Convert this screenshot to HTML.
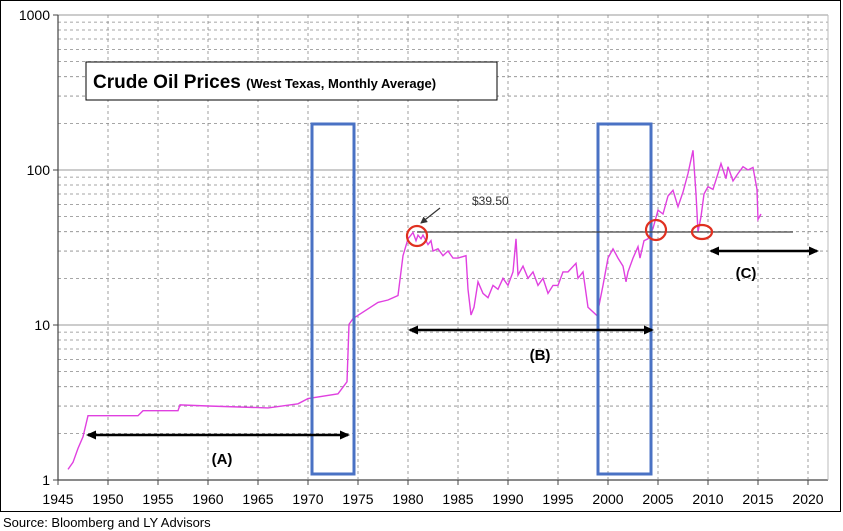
<!DOCTYPE html>
<html><head><meta charset="utf-8"><style>
body{margin:0;background:#fff;}
svg{display:block;font-family:"Liberation Sans",sans-serif;}
</style></head><body>
<svg id="chart" width="843" height="531" viewBox="0 0 843 531">
<rect x="0.5" y="0.5" width="840" height="511" fill="#fff" stroke="#000"/>
<g id="grid"></g>
<g id="axes"></g>
<g id="series"></g>
<g id="annot"></g>
<text x="3" y="527" font-size="13" fill="#000">Source:  Bloomberg and LY Advisors</text>
</svg>
<script>
const xTicks=[1945,1950,1955,1960,1965,1970,1975,1980,1985,1990,1995,2000,2005,2010,2015,2020];
const yTicks=[1,10,100,1000];
const years=[1946,1946.5,1947,1947.5,1948,1953,1953.5,1957,1957.2,1960,1966,1969,1970,1973,1973.9,1974.1,1974.5,1977,1978,1979,1979.5,1980,1980.5,1980.8,1981,1981.3,1981.5,1982,1982.3,1982.5,1983,1983.5,1984,1984.5,1985,1985.8,1986,1986.3,1986.6,1987,1987.5,1988,1988.5,1989,1989.5,1990,1990.5,1990.8,1991,1991.5,1992,1992.5,1993,1993.5,1994,1994.5,1995,1995.5,1996,1996.8,1997,1997.5,1998,1998.9,1999.5,2000,2000.5,2001,2001.5,2001.8,2002,2002.5,2003,2003.2,2003.6,2004,2004.5,2005,2005.5,2006,2006.5,2007,2007.5,2008,2008.5,2008.8,2009,2009.3,2009.6,2010,2010.5,2011,2011.3,2011.8,2012,2012.5,2013,2013.5,2014,2014.5,2014.9,2015,2015.3];
const prices=[1.17,1.3,1.6,1.9,2.6,2.6,2.8,2.8,3.05,3.0,2.92,3.1,3.35,3.6,4.3,10.1,11,14,14.5,15.5,28,36,39.5,35,38,36,38,33,35,30,31,28,30,27,27,28,17,11.6,13,19,16,15,18,17,20,18,22,36,21,24,20,22,18,20,16,18,18,22,22,25,20,22,13,11.5,18,27,31,27,24,19,22,27,32,27,35,36,42,55,52,68,74,58,72,95,134,70,40,50,70,78,75,95,110,88,105,85,95,105,100,104,75,48,52];
const X=y=>58+(y-1945)*10;
const Y=v=>480-Math.log10(v)*155;
const NS='http://www.w3.org/2000/svg';
function mk(t,a,p){const e=document.createElementNS(NS,t);for(const k in a)e.setAttribute(k,a[k]);p.appendChild(e);return e;}
const grid=document.getElementById('grid'),axes=document.getElementById('axes'),series=document.getElementById('series');
for(let d=0;d<3;d++){for(let m=2;m<=9;m++){const v=Math.pow(10,d)*m;const l=mk('line',{x1:58,x2:828,y1:Y(v),y2:Y(v),stroke:'#888','stroke-dasharray':'3,3','stroke-width':0.8},grid);

}}
yTicks.forEach(v=>{const l=mk('line',{x1:58,x2:828,y1:Y(v),y2:Y(v),stroke:v==1?'#444':'#999','stroke-width':v==1?1.2:1},grid);


mk('line',{x1:53,x2:58,y1:Y(v),y2:Y(v),stroke:'#444'},axes);
const t=mk('text',{x:50,y:Y(v)+5,'text-anchor':'end','font-size':14},axes);t.textContent=v;

});
xTicks.forEach((yr,i)=>{if(i>0){const l=mk('line',{x1:X(yr),x2:X(yr),y1:15,y2:480,stroke:'#888','stroke-dasharray':'3,3','stroke-width':0.8},grid);

}
mk('line',{x1:X(yr),x2:X(yr),y1:480,y2:485,stroke:'#444'},axes);
const t=mk('text',{x:X(yr),y:504,'text-anchor':'middle','font-size':14},axes);t.textContent=yr;

});
mk('line',{x1:58,x2:58,y1:15,y2:480,stroke:'#444','stroke-width':1.2},axes);
mk('line',{x1:828,x2:828,y1:15,y2:480,stroke:'#bbb'},axes);
const pts=years.map((y,i)=>X(y).toFixed(1)+','+Y(prices[i]).toFixed(1)).join(' ');
const pl=mk('polyline',{points:pts,fill:'none',stroke:'#e040e0','stroke-width':1.4},series);


</script>
<script>
(function(){
const annot=document.getElementById('annot');
annot.innerHTML=`
<defs><marker id="ah" markerUnits="userSpaceOnUse" markerWidth="10" markerHeight="10" refX="8" refY="5" orient="auto-start-reverse"><path d="M0,0.5 L10,5 L0,9.5z" fill="#000"/></marker>
<marker id="ah2" markerUnits="userSpaceOnUse" markerWidth="7" markerHeight="7" refX="6" refY="3.5" orient="auto"><path d="M0,0 L7,3.5 L0,7z" fill="#333"/></marker></defs>
<rect x="86" y="62" width="411" height="38" fill="#fff" stroke="#000"/>
<text x="93" y="88" font-size="19" font-weight="bold">Crude Oil Prices <tspan font-size="13">(West Texas, Monthly Average)</tspan></text>
<rect x="312" y="124" width="42" height="350" fill="none" stroke="#4a72c4" stroke-width="3"/>
<rect x="598" y="124" width="53" height="350" fill="none" stroke="#4a72c4" stroke-width="3"/>
<line x1="417" y1="232" x2="793" y2="232" stroke="#444" stroke-width="1.2"/>
<circle cx="417" cy="236" r="10" fill="none" stroke="#e03020" stroke-width="2.2"/>
<circle cx="656" cy="230" r="10" fill="none" stroke="#e03020" stroke-width="2.2"/>
<ellipse cx="702" cy="232" rx="10" ry="7" fill="none" stroke="#e03020" stroke-width="2.2"/>
<text x="472" y="205" font-size="12" fill="#333">$39.50</text>
<line x1="440" y1="208" x2="421" y2="223" stroke="#333" stroke-width="1.2" marker-end="url(#ah2)"/>
<line x1="88" y1="435" x2="348" y2="435" stroke="#000" stroke-width="2.5" marker-start="url(#ah)" marker-end="url(#ah)"/>
<line x1="410" y1="330" x2="652" y2="330" stroke="#000" stroke-width="2.5" marker-start="url(#ah)" marker-end="url(#ah)"/>
<line x1="711" y1="251" x2="817" y2="251" stroke="#000" stroke-width="2.5" marker-start="url(#ah)" marker-end="url(#ah)"/>
<text x="222" y="464" font-size="15" font-weight="bold" text-anchor="middle">(A)</text>
<text x="540" y="360" font-size="15" font-weight="bold" text-anchor="middle">(B)</text>
<text x="746" y="278" font-size="15" font-weight="bold" text-anchor="middle">(C)</text>`;
})();
</script>
</body></html>
